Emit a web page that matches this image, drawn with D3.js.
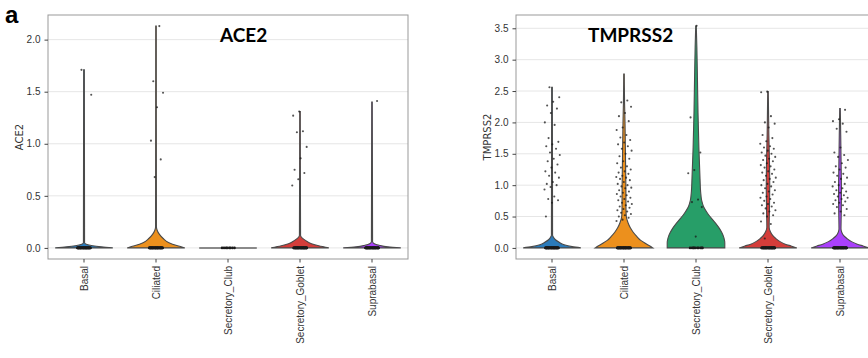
<!DOCTYPE html>
<html>
<head>
<meta charset="utf-8">
<script src="https://cdn.jsdelivr.net/npm/d3@7"></script>
<style>
  body { margin: 0; background: #fff; }
  svg { display: block; font-family: 'DejaVu Sans', sans-serif; }
  .grid line { stroke: #e6e6e6; stroke-width: 1; }
  .axis text { fill: #333; font-size: 10px; }
  .axis line { stroke: #444; }
  .axis path { display: none; }
  .frame { fill: none; stroke: #999; stroke-width: 1; }
  .violin { stroke: #4a4a4a; stroke-width: 1.1; }
  .dot { fill: #1a1a1a; }
</style>
</head>
<body>
<div id="chart"></div>
<script>
const categories = ['Basal', 'Ciliated', 'Secretory_Club', 'Secretory_Goblet', 'Suprabasal'];
const colors = ['#2b7bba', '#ec901d', '#279e68', '#d43d3a', '#aa40fc'];

const ace2Ticks = [0, 0.5, 1, 1.5, 2];
const tmprss2Ticks = [0, 0.5, 1, 1.5, 2, 2.5, 3, 3.5];

// violin outline per cell type: [expression, relative half width]
const ace2Shapes = [
  [[0, 1], [0.01, 0.6], [0.02, 0.3], [0.035, 0.08], [0.05, 0.02], [1.71, 0.012]],
  [[0, 1], [0.02, 0.75], [0.05, 0.45], [0.09, 0.25], [0.13, 0.12], [0.17, 0.04], [0.2, 0.015], [2.13, 0.01]],
  [[0, 1]],
  [[0, 1], [0.02, 0.65], [0.04, 0.4], [0.07, 0.2], [0.1, 0.06], [0.12, 0.02], [1.31, 0.01]],
  [[0, 1], [0.01, 0.55], [0.025, 0.25], [0.04, 0.08], [0.06, 0.02], [1.4, 0.01]]
];

const tmprss2Shapes = [
  [[0, 1], [0.02, 0.7], [0.05, 0.42], [0.09, 0.25], [0.13, 0.12], [0.17, 0.05], [0.2, 0.02], [2.56, 0.012]],
  [[0, 1], [0.03, 0.9], [0.07, 0.75], [0.12, 0.58], [0.18, 0.45], [0.25, 0.32], [0.32, 0.22], [0.4, 0.14],
   [0.5, 0.08], [0.6, 0.07], [1.0, 0.065], [1.5, 0.05], [2.0, 0.035], [2.3, 0.02], [2.77, 0.01]],
  [[0, 1], [0.08, 1.0], [0.16, 0.97], [0.24, 0.9], [0.32, 0.8], [0.4, 0.67], [0.46, 0.56], [0.52, 0.45],
   [0.58, 0.36], [0.66, 0.26], [0.75, 0.2], [0.9, 0.16], [1.1, 0.14], [1.6, 0.1], [2.15, 0.07],
   [2.7, 0.05], [3.2, 0.03], [3.535, 0.01]],
  [[0, 1], [0.03, 0.8], [0.06, 0.6], [0.1, 0.42], [0.15, 0.27], [0.2, 0.16], [0.26, 0.08], [0.33, 0.04],
   [0.6, 0.05], [1.0, 0.06], [1.4, 0.05], [1.8, 0.03], [2.2, 0.018], [2.49, 0.01]],
  [[0, 1], [0.03, 0.8], [0.06, 0.6], [0.1, 0.4], [0.15, 0.24], [0.2, 0.12], [0.25, 0.06], [0.3, 0.035],
   [0.6, 0.045], [0.9, 0.05], [1.3, 0.04], [1.8, 0.025], [2.22, 0.01]]
];

// non-zero cells shown as dots
const ace2Points = [
  [1.71, 1.47],
  [2.13, 1.60, 1.49, 1.35, 1.03, 0.85, 0.68],
  [],
  [1.31, 1.27, 1.12, 1.11, 0.97, 0.86, 0.75, 0.72, 0.66, 0.60],
  [1.41]
];

const tmprss2Points = [
  [2.56, 2.40, 2.33, 2.27, 2.22, 2.15, 2.0, 1.96, 1.75, 1.69, 1.65, 1.62, 1.58, 1.52, 1.48, 1.42, 1.38,
   1.33, 1.28, 1.22, 1.2, 1.15, 1.12, 1.05, 1.02, 1.0, 0.97, 0.93, 0.82, 0.78, 0.76, 0.72, 0.5],
  [2.35, 2.32, 2.25, 2.15, 2.1, 2.02, 1.92, 1.88, 1.8, 1.76, 1.72, 1.68, 1.65, 1.62, 1.58, 1.55, 1.5,
   1.46, 1.42, 1.38, 1.35, 1.3, 1.28, 1.25, 1.22, 1.2, 1.18, 1.15, 1.13, 1.12, 1.1, 1.08, 1.05, 1.02,
   1.0, 0.98, 0.96, 0.95, 0.92, 0.9, 0.88, 0.86, 0.84, 0.82, 0.8, 0.78, 0.76, 0.74, 0.72, 0.7, 0.68,
   0.66, 0.64, 0.62, 0.6, 0.58, 0.56, 0.54, 0.52, 0.5, 0.48, 0.45, 0.43],
  [3.54, 2.08, 1.52, 1.24, 1.19, 0.77, 0.73, 0.65, 0.18],
  [2.49, 2.48, 2.1, 2.0, 1.98, 1.92, 1.8, 1.75, 1.7, 1.66, 1.62, 1.6, 1.58, 1.55, 1.52, 1.5, 1.47,
   1.45, 1.42, 1.4, 1.38, 1.35, 1.32, 1.3, 1.28, 1.25, 1.22, 1.2, 1.18, 1.15, 1.12, 1.1, 1.08, 1.05,
   1.02, 1.0, 0.98, 0.95, 0.92, 0.9, 0.88, 0.85, 0.82, 0.8, 0.78, 0.75, 0.72, 0.7, 0.68, 0.66, 0.63,
   0.6, 0.58, 0.55, 0.52, 0.5, 0.42, 0.38, 0.15],
  [2.2, 2.05, 2.02, 1.98, 1.9, 1.85, 1.6, 1.52, 1.48, 1.45, 1.4, 1.35, 1.3, 1.28, 1.25, 1.2, 1.18,
   1.15, 1.12, 1.1, 1.05, 1.02, 1.0, 0.98, 0.95, 0.92, 0.9, 0.88, 0.86, 0.84, 0.82, 0.8, 0.78, 0.76,
   0.74, 0.72, 0.7, 0.68, 0.65, 0.62, 0.58, 0.55, 0.52]
];

// cells at zero expression (dense band at the bottom)
const ace2Zeros = [40, 40, 8, 40, 40];
const tmprss2Zeros = [40, 40, 10, 40, 40];

const W = 868, H = 358;
const plotTop = 15, plotBottom = 259;

const svg = d3.select('#chart').append('svg')
  .attr('width', W)
  .attr('height', H);

svg.append('text')
  .attr('x', 5)
  .attr('y', 23)
  .style('font-family', "'Liberation Sans', Arial, sans-serif")
  .style('font-weight', 'bold')
  .style('font-size', '24px')
  .text('a');

// golden-ratio jitter so dots spread without randomness
const jitter = (i, k) => ((((i + 1) * 0.6180339887) + k * 0.37) % 1) - 0.5;

function drawPanel(opt) {
  const width = 360;
  const height = plotBottom - plotTop;
  const g = svg.append('g').attr('transform', `translate(${opt.left},${plotTop})`);

  const yMax = d3.max(opt.shapes, s => d3.max(s, d => d[0]));
  const pad = yMax * 0.05;
  const y = d3.scaleLinear().domain([-pad, yMax + pad]).range([height, 0]);
  const x = d3.scaleBand().domain(categories).range([0, width]);
  const half = x.bandwidth() * 0.4;
  const jw = x.bandwidth() * 0.22;
  const jz = x.bandwidth() * 0.19;

  g.append('g').attr('class', 'grid')
    .selectAll('line')
    .data(opt.ticks)
    .enter().append('line')
    .attr('x1', 0).attr('x2', width)
    .attr('y1', d => y(d)).attr('y2', d => y(d));

  categories.forEach((c, i) => {
    const cx = x(c) + x.bandwidth() / 2;
    const shape = opt.shapes[i];
    if (shape.length === 1) {
      // all cells at zero -> flat violin
      g.append('line')
        .attr('x1', cx - half).attr('x2', cx + half)
        .attr('y1', y(shape[0][0])).attr('y2', y(shape[0][0]))
        .attr('stroke', '#8a8a8a')
        .attr('stroke-width', 2);
    } else {
      const area = d3.area()
        .curve(d3.curveMonotoneY)
        .y(d => y(d[0]))
        .x0(d => cx - d[1] * half)
        .x1(d => cx + d[1] * half);
      g.append('path')
        .datum(shape)
        .attr('class', 'violin')
        .attr('fill', colors[i])
        .attr('d', area);
    }

    const zeros = d3.range(opt.zeros[i]).map(() => 0);
    g.append('g')
      .selectAll('circle')
      .data(zeros.concat(opt.points[i]))
      .enter().append('circle')
      .attr('class', 'dot')
      .attr('cx', (d, j) => cx + jitter(j, i) * (d === 0 ? jz : jw))
      .attr('cy', d => y(d))
      .attr('r', d => d === 0 ? 1.3 : 1.05)
      .attr('opacity', d => d === 0 ? 1 : 0.75);
  });

  g.append('rect')
    .attr('class', 'frame')
    .attr('width', width)
    .attr('height', height);

  g.append('g').attr('class', 'axis')
    .call(d3.axisLeft(y).tickValues(opt.ticks).tickFormat(d3.format('.1f')).tickSize(3.5).tickPadding(4));

  const xAxis = g.append('g').attr('class', 'axis')
    .attr('transform', `translate(0,${height})`)
    .call(d3.axisBottom(x).tickSize(3.5).tickPadding(4));
  xAxis.selectAll('text')
    .attr('transform', 'rotate(-90)')
    .attr('x', -7)
    .attr('y', 0)
    .attr('dy', '0.35em')
    .style('text-anchor', 'end');

  g.append('text')
    .attr('transform', `translate(-29,${height / 2}) rotate(-90)`)
    .attr('dy', '0.35em')
    .style('text-anchor', 'middle')
    .style('font-size', '10px')
    .style('fill', '#333')
    .text(opt.label);

  g.append('text')
    .attr('x', opt.titleX)
    .attr('y', 42 - plotTop)
    .style('font-family', "Lato, 'Open Sans', sans-serif")
    .style('font-weight', 'bold')
    .style('font-size', '19px')
    .text(opt.label);
}

drawPanel({
  left: 48, label: 'ACE2', titleX: 172,
  ticks: ace2Ticks, shapes: ace2Shapes, points: ace2Points, zeros: ace2Zeros
});

drawPanel({
  left: 516, label: 'TMPRSS2', titleX: 72,
  ticks: tmprss2Ticks, shapes: tmprss2Shapes, points: tmprss2Points, zeros: tmprss2Zeros
});
</script>
</body>
</html>
